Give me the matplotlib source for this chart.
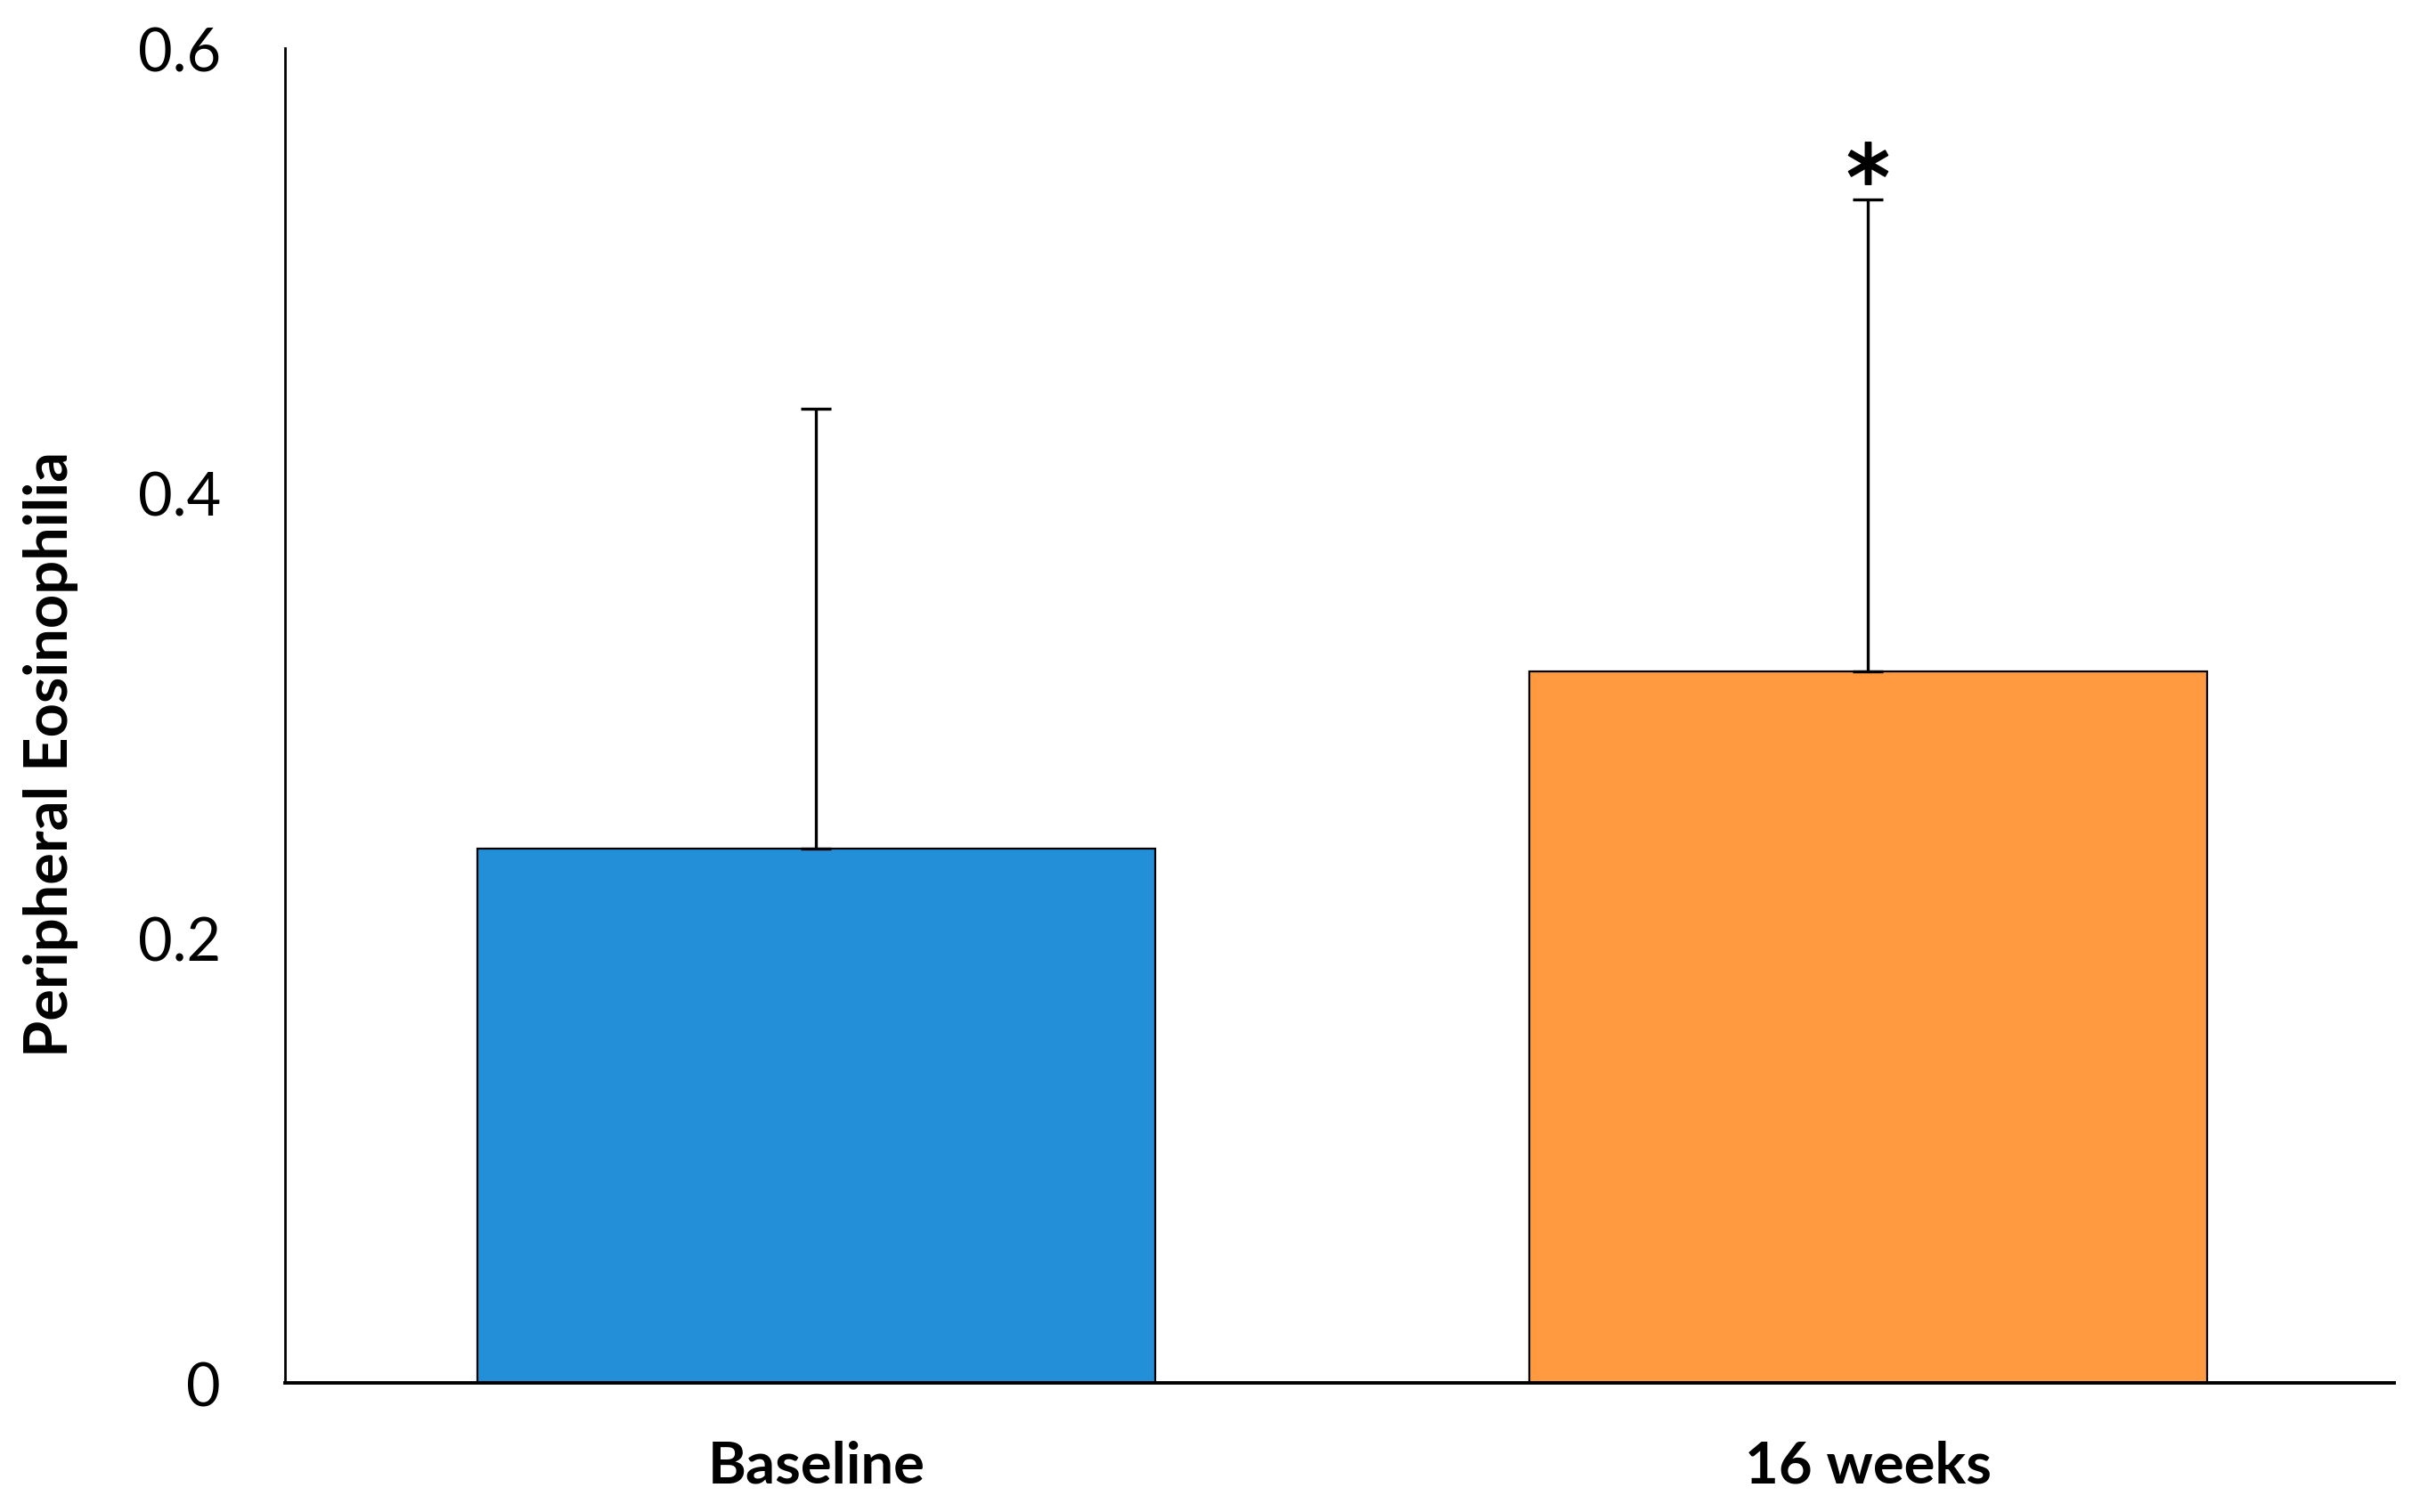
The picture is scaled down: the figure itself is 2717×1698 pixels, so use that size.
import matplotlib
matplotlib.use("Agg")
import matplotlib.pyplot as plt

categories = ["Baseline", "16 weeks"]
values = [0.24, 0.32]
errors = [0.198, 0.212]
colors = ["#228FD8", "#FF9A40"]
yticks = [0, 0.2, 0.4, 0.6]
ytick_labels = ["0", "0.2", "0.4", "0.6"]
ylabel = "Peripheral Eosinophilia"
sig_marks = ["", "*"]

plt.rcParams['font.family'] = ['Lato', 'DejaVu Sans']

fig = plt.figure(figsize=(27.17, 16.99), dpi=100)
ax = fig.add_axes([0.1178, 0.0853, 0.8715, 0.8823])

x = list(range(len(categories)))
ax.bar(x, values, width=0.645, color=colors, edgecolor="black", linewidth=1.6, zorder=2)
ax.errorbar(x, values, yerr=[[0] * len(errors), errors], fmt="none", ecolor="black",
            elinewidth=2.4, capsize=12.5, capthick=2.4, zorder=3)

for xi, v, e, m in zip(x, values, errors, sig_marks):
    if m:
        ax.plot([xi], [v + e + 0.0165], marker="$\\ast$", markersize=34,
                color="black", markeredgewidth=1.2, linestyle="none", zorder=4)

ax.set_xlim(-0.505, 1.5)
ax.set_ylim(0, 0.6)
ax.set_yticks(yticks)
ax.set_yticklabels(ytick_labels, fontsize=48)
ax.set_xticks(x)
ax.set_xticklabels(categories, fontsize=47, fontweight="bold")
ax.tick_params(axis="both", length=0)
ax.tick_params(axis="y", pad=52)
ax.tick_params(axis="x", pad=46)

for s in ["top", "right"]:
    ax.spines[s].set_visible(False)
ax.spines["left"].set_linewidth(2.0)
ax.spines["bottom"].set_linewidth(2.8)

fig.text(0.021, 1 - 847 / 1699, ylabel, rotation=90, ha="center", va="center",
         fontsize=48, fontweight="bold")

fig.savefig("out.png", dpi=100, facecolor="white")
